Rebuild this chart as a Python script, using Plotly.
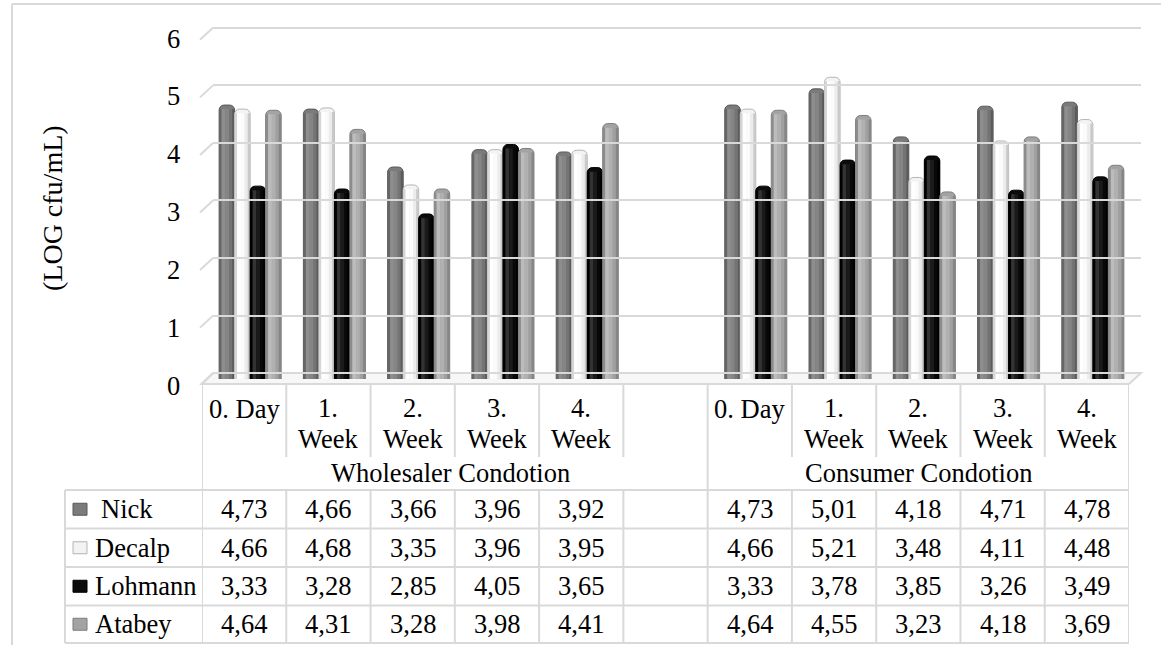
import plotly.graph_objects as go

# ---------------- data ----------------
groups = ["Wholesaler Condotion", "Consumer Condotion"]
periods = ["0. Day", "1. Week", "2. Week", "3. Week", "4. Week"]
series_names = ["Nick", "Decalp", "Lohmann", "Atabey"]

nick_wholesaler = [4.73, 4.66, 3.66, 3.96, 3.92]
nick_consumer = [4.73, 5.01, 4.18, 4.71, 4.78]
decalp_wholesaler = [4.66, 4.68, 3.35, 3.96, 3.95]
decalp_consumer = [4.66, 5.21, 3.48, 4.11, 4.48]
lohmann_wholesaler = [3.33, 3.28, 2.85, 4.05, 3.65]
lohmann_consumer = [3.33, 3.78, 3.85, 3.26, 3.49]
atabey_wholesaler = [4.64, 4.31, 3.28, 3.98, 4.41]
atabey_consumer = [4.64, 4.55, 3.23, 4.18, 3.69]

y_ticks = [0, 1, 2, 3, 4, 5, 6]
y_title = "(LOG cfu/mL)"

series_values = [
    nick_wholesaler + nick_consumer,
    decalp_wholesaler + decalp_consumer,
    lohmann_wholesaler + lohmann_consumer,
    atabey_wholesaler + atabey_consumer,
]

# ---------------- styling ----------------
W, H = 1161, 645
FONT = "Liberation Serif"
GRID = "#d9d9d9"
base_colors = ["#7b7b7b", "#f3f3f3", "#0c0c0c", "#a3a3a3"]
edge_colors = ["#5a5a5a", "#b5b5b5", "#000000", "#7d7d7d"]
strip_colors = [
    ["#666666", "#8e8e8e", "#858585", "#747474", "#5c5c5c"],
    ["#d6d6d6", "#ffffff", "#fbfbfb", "#ececec", "#c9c9c9"],
    ["#000000", "#333333", "#1a1a1a", "#080808", "#000000"],
    ["#8c8c8c", "#bcbcbc", "#b0b0b0", "#a0a0a0", "#868686"],
]
strip_frac = [(0.0, 0.16), (0.16, 0.24), (0.40, 0.24), (0.64, 0.20), (0.84, 0.16)]


def px(p):
    return p / W


def py(p):
    return 1 - p / H


n_per = len(periods)
xs = [g * (n_per + 1) + c for g in range(len(groups)) for c in range(n_per)]
n_cols = len(groups) * (n_per + 1) - 1  # 11 columns (one blank gap)
x_range = [-0.5, n_cols - 0.5]

bw = 0.184
start = -bw * len(series_names) / 2

fig = go.Figure()
cap = 0.07
for i, (name, vals) in enumerate(zip(series_names, series_values)):
    off = start + i * bw
    fig.add_trace(go.Bar(
        x=xs, y=vals, width=bw, offset=off, name=name,
        marker=dict(color=base_colors[i], cornerradius=5,
                    line=dict(width=1, color=edge_colors[i])),
        hoverinfo="skip", showlegend=False))
    for (sf, wf), col in zip(strip_frac, strip_colors[i]):
        fig.add_trace(go.Bar(
            x=xs, y=[v - cap for v in vals], width=bw * wf, offset=off + bw * sf,
            marker=dict(color=col, line=dict(width=0)),
            hoverinfo="skip", showlegend=False))

shapes = []
annotations = []


def hline(y, x0, x1):
    shapes.append(dict(type="line", xref="paper", yref="paper", x0=px(x0), x1=px(x1),
                       y0=py(y), y1=py(y), line=dict(color=GRID, width=2)))


# outer chart border (top & left)
hline(4, 12, W + 5)
shapes.append(dict(type="line", xref="paper", yref="paper", x0=px(12), x1=px(12),
                   y0=py(4), y1=py(H + 5), line=dict(color=GRID, width=2)))

# floor
shapes.append(dict(type="path", xref="paper", yref="paper",
                   path=f"M {px(202)} {py(384)} L {px(213)} {py(373)} L {px(1141)} {py(373)} L {px(1129)} {py(384)} Z",
                   fillcolor="#f7f7f7", line=dict(color=GRID, width=2), layer="below"))

# side wall diagonals from front tick to back wall
for v in y_ticks:
    shapes.append(dict(type="line", xref="paper", yref="y3", x0=px(200), x1=px(213),
                       ysizemode="pixel", yanchor=v, y0=-12, y1=0,
                       line=dict(color=GRID, width=2), layer="below"))

# tick labels
for v in y_ticks:
    annotations.append(dict(xref="paper", yref="y", x=px(182), y=v, yshift=-7,
                            text=str(v), showarrow=False, xanchor="right", yanchor="middle",
                            font=dict(family=FONT, size=26.5, color="#000")))

# y title
annotations.append(dict(xref="paper", yref="paper", x=px(52), y=py(208), text=y_title,
                        textangle=-90, showarrow=False, xanchor="center", yanchor="middle",
                        font=dict(family=FONT, size=28, color="#000")))

# ---------------- table ----------------
T_TOP, T_HDR, T_GRP = 384, 457, 490
ROWS = [490, 528.5, 567, 605.5, 643]
LEFT = 65

for b in [k + 0.5 for k in range(-1, n_cols)]:
    full = abs(b - x_range[0]) < 1e-9 or abs(b - x_range[1]) < 1e-9 or abs(b - (n_per + 0.5)) < 1e-9
    if full:
        shapes.append(dict(type="line", xref="x3", yref="paper", x0=b, x1=b,
                           y0=py(T_TOP), y1=py(ROWS[-1]), line=dict(color=GRID, width=2)))
    else:
        shapes.append(dict(type="line", xref="x3", yref="paper", x0=b, x1=b,
                           y0=py(T_TOP), y1=py(T_HDR), line=dict(color=GRID, width=2)))
        shapes.append(dict(type="line", xref="x3", yref="paper", x0=b, x1=b,
                           y0=py(T_GRP), y1=py(ROWS[-1]), line=dict(color=GRID, width=2)))
for r in ROWS:
    hline(r, LEFT, 1129)
shapes.append(dict(type="line", xref="paper", yref="paper", x0=px(LEFT), x1=px(LEFT),
                   y0=py(ROWS[0]), y1=py(ROWS[-1]), line=dict(color=GRID, width=2)))

tfont = dict(family=FONT, size=26.5, color="#000")


def txt(xref, x, y, text, xanchor="center"):
    annotations.append(dict(xref=xref, yref="paper", x=x, y=py(y), text=text,
                            showarrow=False, xanchor=xanchor, yanchor="middle", font=tfont))


for x, lab in zip(xs, periods * len(groups)):
    parts = lab.split(" ")
    if parts[1] == "Day":
        txt("x3", x, 409, lab)
    else:
        txt("x3", x, 408, parts[0])
        txt("x3", x, 439, parts[1])

for g, gname in enumerate(groups):
    if g == 0:
        cx = (0 + n_per) / 2 - 0.05
    else:
        cx = g * (n_per + 1) + (n_per - 1) / 2
    txt("x3", cx, 473, gname)

for i, (name, vals) in enumerate(zip(series_names, series_values)):
    yc = (ROWS[i] + ROWS[i + 1]) / 2
    shapes.append(dict(type="rect", xref="paper", yref="paper", x0=px(73), x1=px(87),
                       y0=py(yc + 6), y1=py(yc - 6), fillcolor=base_colors[i],
                       line=dict(color=edge_colors[i], width=1)))
    txt("paper", px(93 if i else 99), yc, name, xanchor="left")
    for x, v in zip(xs, vals):
        txt("x3", x, yc, f"{v:.2f}".replace(".", ","))

hidden = dict(showticklabels=False, showgrid=False, zeroline=False, showline=False, ticks="")

# back wall: 0 at 373.2 px, 6 at 27.8 px, range padded so edge gridlines are drawn
unit = (373.2 - 27.8) / 6
pad = 0.2
fig.update_layout(
    width=W, height=H,
    margin=dict(l=0, r=0, t=0, b=0),
    paper_bgcolor="white", plot_bgcolor="rgba(0,0,0,0)",
    barmode="overlay",
    xaxis=dict(domain=[px(208), px(1135)], range=x_range, anchor="y", **hidden),
    yaxis=dict(domain=[py(379), py(31.5)], range=[0, 6], anchor="x", **hidden),
    xaxis2=dict(domain=[px(213), px(1141)], range=[0, 1], anchor="y3", **hidden),
    yaxis3=dict(domain=[py(373.2 + pad * unit), py(27.8 - pad * unit)], range=[-pad, 6 + pad],
                anchor="x2", showticklabels=False, showgrid=True, gridcolor=GRID, gridwidth=2,
                zeroline=False, showline=False, ticks="", tickvals=y_ticks),
    xaxis3=dict(domain=[px(202), px(1129)], range=x_range, anchor="y", **hidden),
    shapes=shapes,
    annotations=annotations,
)

fig.write_html("out.html", config={"displayModeBar": False},
               post_script="document.body.style.margin='0';document.body.style.overflow='hidden';")
